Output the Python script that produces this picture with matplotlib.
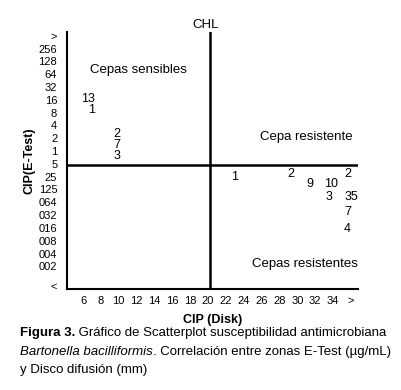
import matplotlib
matplotlib.use("Agg")
import matplotlib.pyplot as plt

plt.rcParams['font.family'] = ['Liberation Sans', 'DejaVu Sans']

x_labels = ["6", "8", "10", "12", "14", "16", "18", "20", "22", "24", "26", "28", "30", "32", "34", ">"]
x_ticks = [6, 8, 10, 12, 14, 16, 18, 20, 22, 24, 26, 28, 30, 32, 34, 36]

y_labels = [">", "256", "128", "64", "32", "16", "8", "4", "2", "1", "5", "25", "125",
            "064", "032", "016", "008", "004", "002", "<"]
y_ticks = [19, 18, 17, 16, 15, 14, 13, 12, 11, 10, 9, 8, 7, 6, 5, 4, 3, 2, 1, -0.5]

# counts written at (disk zone, E-test level)
counts = ["13", "1", "2", "7", "3", "1", "2", "9", "10", "2", "3", "35", "7", "4"]
count_x = [6.6, 6.9, 9.8, 9.8, 9.8, 23.0, 29.3, 31.4, 33.8, 35.6, 33.5, 36.0, 35.6, 35.6]
count_y = [14.1, 13.2, 11.35, 10.5, 9.65, 8.0, 8.2, 7.4, 7.4, 8.2, 6.4, 6.4, 5.25, 3.9]

disk_cut = 20.2
etest_cut = 8.9

fig = plt.figure(figsize=(4.01, 3.90), dpi=100)
ax = fig.add_axes([0.167, 0.259, 0.726, 0.659])
ax.set_xlim(4.2, 36.8)
ax.set_ylim(-0.77, 19.3)

for s in ["top", "right"]:
    ax.spines[s].set_visible(False)
for s in ["left", "bottom"]:
    ax.spines[s].set_linewidth(1.5)

ax.set_xticks(x_ticks)
ax.set_xticklabels(x_labels, fontsize=8)
ax.set_yticks(y_ticks)
ax.set_yticklabels(y_labels, fontsize=8)
ax.tick_params(length=0, pad=7)
ax.tick_params(axis="x", pad=5)

ax.axvline(disk_cut, color="black", lw=1.8)
ax.axhline(etest_cut, color="black", lw=1.8)

for t, x, y in zip(counts, count_x, count_y):
    ax.text(x, y, t, ha="center", va="center", fontsize=9)

ax.text(12.2, 16.3, "Cepas sensibles", ha="center", va="center", fontsize=9.5)
ax.text(31.0, 11.1, "Cepa resistente", ha="center", va="center", fontsize=9.5)
ax.text(30.8, 1.2, "Cepas resistentes", ha="center", va="center", fontsize=9.5)

ax.set_xlabel("CIP (Disk)", fontsize=9, fontweight="bold", labelpad=6)
ax.set_ylabel("CIP(E-Test)", fontsize=9, fontweight="bold", labelpad=2)
ax.set_title("CHL", fontsize=9.5, x=(disk_cut - 0.5 - 4.2) / (36.8 - 4.2), pad=3)

# caption with mixed styles
renderer = fig.canvas.get_renderer()
def put_pieces(pieces, y):
    x = 20 / 401
    for txt, style in pieces:
        kw = {"fontsize": 9.5}
        if style == "b":
            kw["fontweight"] = "bold"
        if style == "i":
            kw["fontstyle"] = "italic"
        t = fig.text(x, y, txt, va="center", ha="left", **kw)
        bb = t.get_window_extent(renderer)
        x += bb.width / fig.bbox.width

put_pieces([("Figura 3.", "b"), (" Gráfico de Scatterplot susceptibilidad antimicrobiana", "")], 1 - 333 / 390)
put_pieces([("Bartonella bacilliformis", "i"), (". Correlación entre zonas E-Test (µg/mL)", "")], 1 - 352 / 390)
put_pieces([("y Disco difusión (mm)", "")], 1 - 370 / 390)

fig.savefig("out.png", dpi=100)
